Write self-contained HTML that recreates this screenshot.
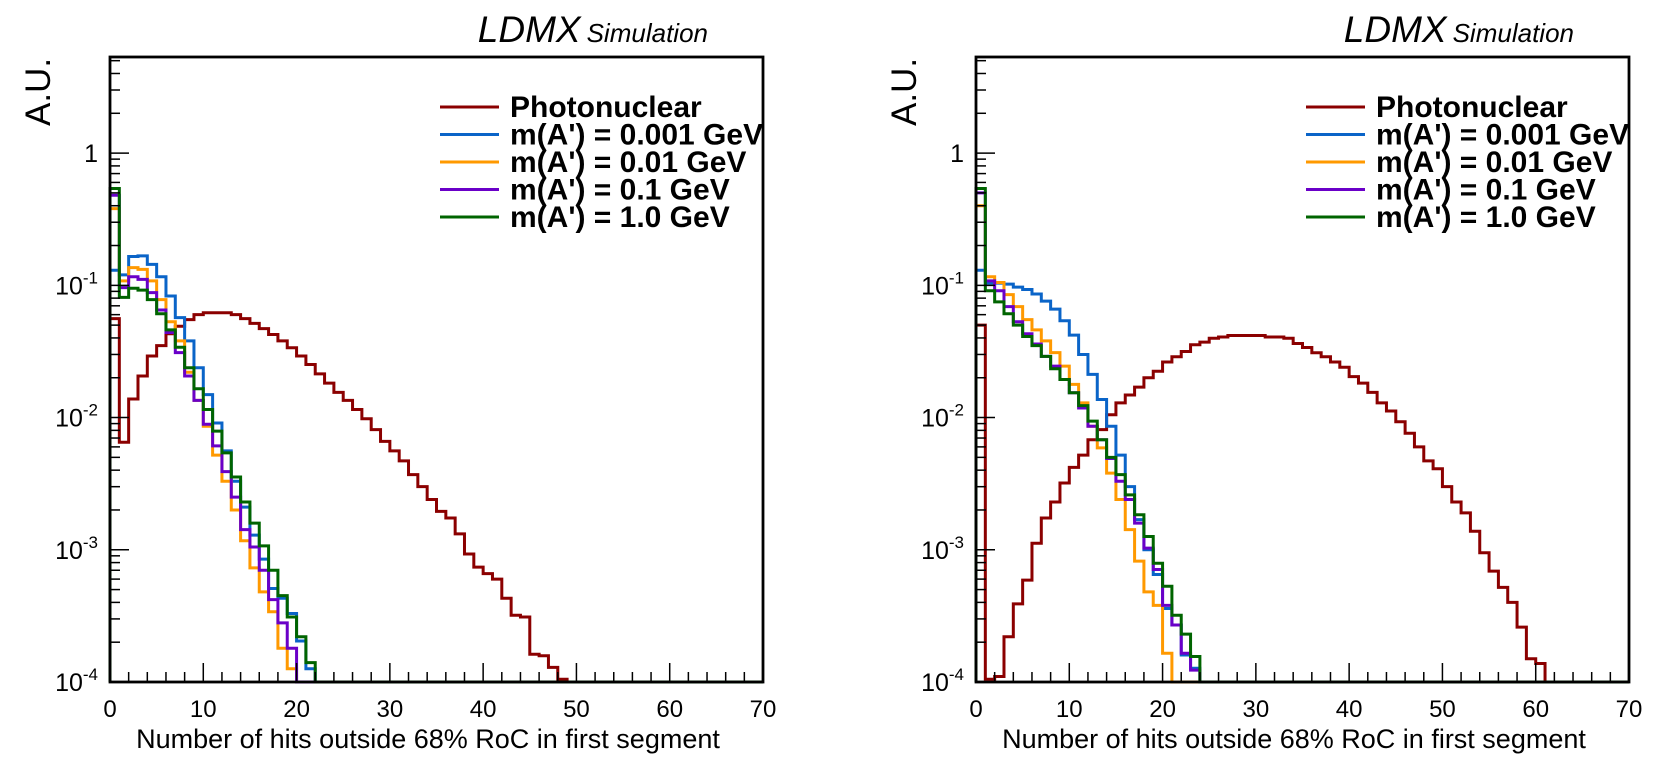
<!DOCTYPE html>
<html><head><meta charset="utf-8">
<style>
html,body{margin:0;padding:0;background:#fff;}
svg{display:block;font-family:"Liberation Sans",Arial,sans-serif;}
</style></head>
<body>
<svg id="chart" width="1674" height="774" viewBox="0 0 1674 774" xmlns="http://www.w3.org/2000/svg"></svg>
<script>
// ---------- data (A.U., bin width = 1 hit) ----------
const xTickLabels = ["0","10","20","30","40","50","60","70"];
const yTickExps = [-4,-3,-2,-1,0];
const seriesNames = ["Photonuclear","m(A') = 0.001 GeV","m(A') = 0.01 GeV","m(A') = 0.1 GeV","m(A') = 1.0 GeV"];
const seriesColors = ["#8b0000","#0a64c8","#ff9900","#6a00c8","#006400"];

const pnLeft = [0.056,0.0065,0.0138,0.0206,0.0292,0.035,0.043,0.049,0.055,0.060,0.062,0.062,0.062,0.060,0.056,0.0515,0.047,0.0425,0.038,0.0337,0.0292,0.0252,0.0214,0.0182,0.0155,0.0135,0.0115,0.0098,0.0081,0.0066,0.0056,0.0047,0.0037,0.0030,0.0024,0.00195,0.00174,0.00132,0.00093,0.00074,0.00066,0.00060,0.00043,0.00032,0.00031,0.000162,0.000158,0.000129,0.000105];
const m0001Left = [0.13,0.12,0.165,0.167,0.144,0.116,0.083,0.057,0.038,0.0238,0.0149,0.0091,0.0056,0.0033,0.0021,0.00129,0.00085,0.00051,0.00043,0.00033,0.000204,0.000126];
const m001Left = [0.38,0.108,0.136,0.132,0.108,0.078,0.053,0.038,0.022,0.0135,0.0086,0.0052,0.0033,0.0020,0.00117,0.00073,0.00048,0.00034,0.00018,0.000126];
const m01Left = [0.48,0.096,0.116,0.111,0.088,0.065,0.044,0.031,0.0206,0.0135,0.0089,0.0061,0.0039,0.0025,0.00142,0.00105,0.0007,0.00042,0.00028,0.00018];
const m1Left = [0.54,0.081,0.095,0.092,0.078,0.061,0.046,0.034,0.0238,0.0165,0.0115,0.0079,0.0054,0.00355,0.0023,0.00159,0.00107,0.0007,0.00045,0.00031,0.00022,0.00014];

const pnRight = [0.050,0.000105,0.00011,0.00022,0.00039,0.00059,0.00112,0.00174,0.0023,0.0032,0.0042,0.0052,0.0068,0.0081,0.0105,0.0129,0.0148,0.0170,0.0200,0.0224,0.0263,0.0288,0.0316,0.0355,0.0372,0.0398,0.0407,0.0417,0.0417,0.0417,0.0417,0.0407,0.0407,0.0398,0.0363,0.0339,0.0309,0.0288,0.0263,0.0240,0.0204,0.0182,0.0155,0.0129,0.0112,0.0093,0.0076,0.0060,0.0047,0.0041,0.0030,0.0023,0.0019,0.00138,0.00095,0.00069,0.00052,0.00040,0.00026,0.00015,0.000138];
const m0001Right = [0.13,0.104,0.104,0.102,0.097,0.093,0.086,0.076,0.066,0.054,0.042,0.030,0.0212,0.0137,0.0086,0.0052,0.0030,0.00169,0.00100,0.00065,0.00036,0.00027,0.00016,0.000127];
const m001Right = [0.40,0.116,0.105,0.085,0.069,0.055,0.046,0.038,0.031,0.0245,0.0178,0.0129,0.0086,0.0059,0.0038,0.0024,0.00142,0.00082,0.00048,0.00038,0.000165];
const m01Right = [0.50,0.108,0.091,0.069,0.053,0.043,0.036,0.029,0.0245,0.0194,0.0154,0.0118,0.0086,0.0068,0.0049,0.0033,0.0024,0.00159,0.00103,0.00071,0.00038,0.00027,0.000165,0.000123];
const m1Right = [0.54,0.091,0.075,0.061,0.050,0.041,0.035,0.029,0.0234,0.0194,0.0154,0.0123,0.0094,0.0068,0.0050,0.0037,0.0026,0.00184,0.00126,0.00079,0.00053,0.00032,0.00023,0.000156];

const NS = "http://www.w3.org/2000/svg";
const svg = document.getElementById("chart");
function mk(tag, attrs, parent){
  const e = document.createElementNS(NS, tag);
  for (const k in attrs) e.setAttribute(k, attrs[k]);
  (parent||svg).appendChild(e);
  return e;
}

const XMIN=0, XMAX=70, LOGMIN=-4, LOGMAX=Math.log10(5.33);

function drawPanel(x0, x1, y0, y1, series, tag){
  const g = mk("g", {});
  
  
  const xs = v => x0 + (v-XMIN)/(XMAX-XMIN)*(x1-x0);
  const ys = v => { const l = v>0 ? Math.max(LOGMIN, Math.log10(v)) : LOGMIN; return y1 - (l-LOGMIN)/(LOGMAX-LOGMIN)*(y1-y0); };

  series.forEach((vals, si) => {
    let d = "M"+xs(0)+","+ys(0.00001);
    for (let i=0;i<70;i++){
      const v = i<vals.length ? vals[i] : 0;
      const y = ys(v);
      d += " L"+xs(i)+","+y+" L"+xs(i+1)+","+y;
    }
    const p = mk("path", {d:d, fill:"none", stroke:seriesColors[si], "stroke-width":3, "stroke-linejoin":"miter"}, g);
    
    
  });

  const fr = mk("rect", {x:x0, y:y0, width:x1-x0, height:y1-y0, fill:"none", stroke:"#000", "stroke-width":2.8}, g);
  
  

  for (let v=0; v<=70; v+=2){
    const major = v%10===0;
    mk("line", {x1:xs(v), x2:xs(v), y1:y1, y2:y1-(major?19:10), stroke:"#000","stroke-width":1.5}, g);
  }
  xTickLabels.forEach((lab, i) => {
    const t = mk("text", {x:xs(i*10), y:y1+35, "font-size":24, "text-anchor":"middle", fill:"#000"}, g);
    t.textContent = lab;
    
    
  });
  for (let e=-4; e<=0; e++){
    for (let m=1; m<=9; m++){
      const v = m*Math.pow(10,e);
      if (Math.log10(v) > LOGMAX) break;
      mk("line", {x1:x0, x2:x0+(m===1?19:10), y1:ys(v), y2:ys(v), stroke:"#000","stroke-width":1.5}, g);
    }
  }
  yTickExps.forEach(e => {
    const t = mk("text", {x:x0-12, y:ys(Math.pow(10,e))+9, "font-size":25, "text-anchor":"end", fill:"#000"}, g);
    
    
    if (e===0) t.textContent = "1";
    else {
      t.textContent = "10";
      const s = mk("tspan", {"font-size":17, dy:-11}, t);
      s.textContent = String(e);
    }
  });

  const yt = mk("text", {x:0, y:0, "font-size":35, transform:"translate("+(x0-60)+","+(y0+35)+") rotate(-90)", "text-anchor":"middle", fill:"#000"}, g);
  yt.textContent = "A.U.";
  
  

  const xt = mk("text", {x:x0+318, y:y1+66, "font-size":27, "text-anchor":"middle", fill:"#000"}, g);
  xt.textContent = "Number of hits outside 68% RoC in first segment";
  
  

  const lt = mk("text", {x:x1-55, y:42, "text-anchor":"end", "font-style":"italic", fill:"#000"}, g);
  
  
  const a = mk("tspan", {"font-size":37}, lt); a.textContent = "LDMX";
  const b = mk("tspan", {"font-size":26, dx:6}, lt); b.textContent = "Simulation";

  const lg = mk("g", {}, g);
  
  
  const lx = x0 + 330;
  seriesNames.forEach((nm, i) => {
    const yy = 107 + i*27.5;
    const e = mk("g", {}, lg);
    
    
    mk("line", {x1:lx, x2:lx+59, y1:yy, y2:yy, stroke:seriesColors[i], "stroke-width":3}, e);
    const t = mk("text", {x:lx+70, y:yy+10, "font-size":30, "font-weight":"bold", fill:"#000"}, e);
    t.textContent = nm;
  });
}

drawPanel(110, 763, 57, 682, [pnLeft, m0001Left, m001Left, m01Left, m1Left], "left");
drawPanel(976, 1629, 57, 682, [pnRight, m0001Right, m001Right, m01Right, m1Right], "right");
</script>
</body></html>
